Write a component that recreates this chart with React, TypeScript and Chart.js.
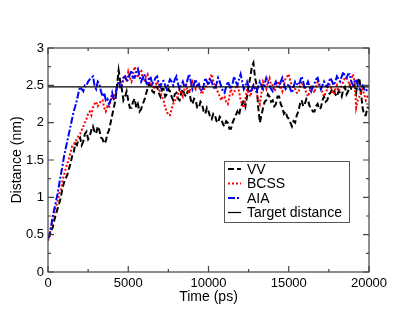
import React, { useEffect, useRef } from "react";
import { Chart, registerables } from "chart.js";

Chart.register(...registerables);

const TIME_STEP = 100; // ps between samples
const TARGET_DISTANCE = 2.48;

const VV = [
  0.45, 0.48, 0.55, 0.6, 0.7, 0.78, 0.85, 0.92, 1.0, 1.12,
  1.2, 1.25, 1.3, 1.38, 1.45, 1.55, 1.6, 1.72, 1.7, 1.78,
  1.8, 1.7, 1.75, 1.85, 1.88, 1.78, 1.82, 1.9, 1.95, 1.88,
  1.85, 1.95, 1.9, 1.8, 1.78, 1.72, 1.75, 1.85, 1.9, 2.0,
  2.1, 2.2, 2.3, 2.5, 2.7, 2.55, 2.45, 2.3, 2.35, 2.42,
  2.3, 2.2, 2.2, 2.28, 2.32, 2.2, 2.25, 2.15, 2.18, 2.25,
  2.3, 2.38, 2.45, 2.52, 2.5, 2.42, 2.4, 2.48, 2.48, 2.4,
  2.35, 2.45, 2.45, 2.35, 2.38, 2.45, 2.42, 2.35, 2.3, 2.38,
  2.4, 2.32, 2.3, 2.4, 2.45, 2.38, 2.35, 2.42, 2.42, 2.3,
  2.25, 2.32, 2.3, 2.2, 2.2, 2.28, 2.25, 2.15, 2.12, 2.2,
  2.15, 2.08, 2.05, 2.12, 2.1, 2.02, 2.0, 2.08, 2.05, 1.98,
  1.95, 2.02, 2.0, 1.92, 1.92, 2.0, 2.05, 2.1, 2.15, 2.1,
  2.2, 2.25, 2.3, 2.22, 2.35, 2.5, 2.6, 2.75, 2.8, 2.6,
  2.5, 2.2, 2.0, 2.1, 2.2, 2.28, 2.3, 2.38, 2.35, 2.28,
  2.3, 2.22, 2.25, 2.35, 2.35, 2.25, 2.2, 2.12, 2.15, 2.08,
  2.05, 2.0, 1.95, 2.02, 2.0, 2.1, 2.15, 2.25, 2.3, 2.22,
  2.25, 2.32, 2.3, 2.22, 2.2, 2.15, 2.15, 2.22, 2.25, 2.18,
  2.2, 2.3, 2.35, 2.28, 2.3, 2.38, 2.4, 2.45, 2.45, 2.38,
  2.35, 2.42, 2.4, 2.35, 2.45, 2.48, 2.38, 2.42, 2.5, 2.45,
  2.45, 2.5, 2.4, 2.55, 2.6, 2.4, 2.2, 2.1, 2.1, 2.2,
  2.2,
];

const BCSS = [
  0.42, 0.5, 0.6, 0.72, 0.8, 0.88, 0.95, 1.05, 1.1, 1.22,
  1.3, 1.38, 1.45, 1.52, 1.6, 1.68, 1.7, 1.75, 1.78, 1.82,
  1.85, 1.9, 1.95, 2.0, 2.05, 2.12, 2.15, 2.1, 2.2, 2.25,
  2.28, 2.22, 2.25, 2.3, 2.3, 2.2, 2.15, 2.22, 2.2, 2.3,
  2.35, 2.3, 2.4, 2.48, 2.55, 2.5, 2.5, 2.6, 2.62, 2.55,
  2.68, 2.6, 2.55, 2.65, 2.75, 2.68, 2.6, 2.7, 2.7, 2.6,
  2.55, 2.62, 2.65, 2.55, 2.5, 2.55, 2.45, 2.5, 2.55, 2.45,
  2.4, 2.35, 2.3, 2.2, 2.15, 2.1, 2.1, 2.18, 2.25, 2.3,
  2.3, 2.38, 2.45, 2.4, 2.35, 2.45, 2.5, 2.42, 2.4, 2.48,
  2.55, 2.5, 2.45, 2.52, 2.5, 2.42, 2.38, 2.45, 2.45, 2.52,
  2.55, 2.6, 2.65, 2.55, 2.5, 2.45, 2.4, 2.35, 2.3, 2.35,
  2.35, 2.28, 2.25, 2.35, 2.45, 2.38, 2.4, 2.48, 2.5, 2.42,
  2.3, 2.25, 2.2, 2.32, 2.45, 2.4, 2.35, 2.42, 2.5, 2.45,
  2.4, 2.3, 2.25, 2.4, 2.55, 2.5, 2.45, 2.55, 2.6, 2.5,
  2.5, 2.42, 2.45, 2.52, 2.55, 2.48, 2.42, 2.5, 2.6, 2.62,
  2.65, 2.55, 2.5, 2.45, 2.45, 2.4, 2.4, 2.48, 2.55, 2.5,
  2.45, 2.4, 2.35, 2.42, 2.5, 2.45, 2.4, 2.48, 2.55, 2.5,
  2.48, 2.4, 2.35, 2.4, 2.45, 2.52, 2.5, 2.42, 2.38, 2.45,
  2.5, 2.42, 2.45, 2.5, 2.55, 2.6, 2.6, 2.55, 2.5, 2.58,
  2.65, 2.55, 2.2, 2.3, 2.35, 2.42, 2.45, 2.38, 2.3, 2.35,
  2.35,
];

const AIA = [
  0.45, 0.52, 0.62, 0.75, 0.85, 0.95, 1.05, 1.18, 1.3, 1.42,
  1.55, 1.65, 1.75, 1.85, 1.95, 2.05, 2.15, 2.22, 2.3, 2.4,
  2.48, 2.45, 2.42, 2.5, 2.5, 2.55, 2.58, 2.6, 2.62, 2.5,
  2.45, 2.55, 2.52, 2.42, 2.35, 2.4, 2.3, 2.32, 2.25, 2.3,
  2.4, 2.32, 2.35, 2.48, 2.55, 2.48, 2.5, 2.6, 2.62, 2.55,
  2.58, 2.65, 2.7, 2.6, 2.6, 2.68, 2.72, 2.62, 2.55, 2.6,
  2.65, 2.55, 2.5, 2.58, 2.6, 2.52, 2.55, 2.6, 2.62, 2.52,
  2.48, 2.55, 2.56, 2.5, 2.45, 2.52, 2.58, 2.55, 2.5, 2.58,
  2.62, 2.52, 2.45, 2.5, 2.55, 2.48, 2.5, 2.58, 2.65, 2.55,
  2.45, 2.52, 2.58, 2.5, 2.52, 2.45, 2.42, 2.5, 2.6, 2.55,
  2.5, 2.58, 2.55, 2.48, 2.45, 2.52, 2.6, 2.55, 2.48, 2.42,
  2.4, 2.48, 2.55, 2.5, 2.45, 2.52, 2.62, 2.55, 2.5, 2.58,
  2.65, 2.55, 2.45, 2.5, 2.55, 2.48, 2.4, 2.45, 2.5, 2.45,
  2.42, 2.48, 2.55, 2.5, 2.45, 2.52, 2.6, 2.55, 2.5, 2.45,
  2.42, 2.5, 2.55, 2.5, 2.48, 2.55, 2.6, 2.52, 2.45, 2.48,
  2.52, 2.45, 2.4, 2.48, 2.55, 2.52, 2.5, 2.55, 2.62, 2.55,
  2.45, 2.5, 2.55, 2.48, 2.42, 2.48, 2.52, 2.58, 2.6, 2.52,
  2.45, 2.5, 2.55, 2.5, 2.48, 2.55, 2.6, 2.55, 2.5, 2.55,
  2.62, 2.58, 2.55, 2.62, 2.68, 2.62, 2.6, 2.65, 2.65, 2.55,
  2.5, 2.55, 2.58, 2.5, 2.45, 2.48, 2.5, 2.45, 2.42, 2.45,
  2.45,
];

const X_MIN = 0;
const X_MAX = 20000;
const Y_MIN = 0;
const Y_MAX = 3;
const X_MAJOR = 5000;
const X_MINOR = 2500;
const Y_MAJOR = 0.5;
const Y_MINOR = 0.25;

const LEGEND_LABELS = ["VV", "BCSS", "AIA", "Target distance"];

const FONT = "'Liberation Sans', Arial, Helvetica, sans-serif";

const toPoints = (arr: number[]) => arr.map((y, i) => ({ x: i * TIME_STEP, y }));

const framePlugin = {
  id: "frameTicks",
  afterDraw(chart: any) {
    const { ctx, chartArea } = chart;
    const xs = chart.scales.x;
    const ys = chart.scales.y;
    ctx.save();
    ctx.strokeStyle = "#444";
    ctx.lineWidth = 1.2;
    ctx.strokeRect(chartArea.left, chartArea.top, chartArea.right - chartArea.left, chartArea.bottom - chartArea.top);
    ctx.beginPath();
    for (let v = X_MIN; v <= X_MAX + 1e-6; v += X_MINOR) {
      const px = xs.getPixelForValue(v);
      const len = Math.abs(v % X_MAJOR) < 1e-6 ? 6 : 3;
      ctx.moveTo(px, chartArea.bottom);
      ctx.lineTo(px, chartArea.bottom - len);
      ctx.moveTo(px, chartArea.top);
      ctx.lineTo(px, chartArea.top + len);
    }
    for (let v = Y_MIN; v <= Y_MAX + 1e-6; v += Y_MINOR) {
      const py = ys.getPixelForValue(v);
      const r = v / Y_MAJOR;
      const len = Math.abs(r - Math.round(r)) < 1e-6 ? 6 : 3;
      ctx.moveTo(chartArea.left, py);
      ctx.lineTo(chartArea.left + len, py);
      ctx.moveTo(chartArea.right, py);
      ctx.lineTo(chartArea.right - len, py);
    }
    ctx.stroke();
    ctx.restore();
  },
};

const legendPlugin = {
  id: "insideLegend",
  afterDraw(chart: any) {
    const { ctx, chartArea } = chart;
    const left = chartArea.left + 176;
    const top = chartArea.top + 113;
    const w = 125;
    const h = 61;
    ctx.save();
    ctx.fillStyle = "#fff";
    ctx.fillRect(left, top, w, h);
    ctx.strokeStyle = "#555";
    ctx.lineWidth = 1;
    ctx.strokeRect(left + 0.5, top + 0.5, w, h);
    ctx.font = `14px ${FONT}`;
    ctx.textBaseline = "middle";
    [0, 1, 2, 3].forEach((di, i) => {
      const ds = chart.data.datasets[di];
      const y = top + 8 + i * 14.5;
      ctx.beginPath();
      ctx.strokeStyle = ds.borderColor;
      ctx.lineWidth = ds.legendWidth;
      ctx.setLineDash(ds.borderDash || []);
      ctx.moveTo(left + 4, y);
      ctx.lineTo(left + 17, y);
      ctx.stroke();
      ctx.setLineDash([]);
      ctx.fillStyle = "#000";
      ctx.fillText(LEGEND_LABELS[i], left + 23, y + 1);
    });
    ctx.restore();
  },
};

export default function App() {
  const ref = useRef<HTMLCanvasElement>(null);
  useEffect(() => {
    if (!ref.current) return;
    const chart = new Chart(ref.current, {
      type: "line",
      data: {
        datasets: [
          {
            label: LEGEND_LABELS[0],
            data: toPoints(VV),
            borderColor: "#000",
            borderWidth: 2,
            borderDash: [6, 3],
            pointRadius: 0,
            order: 3,
            legendWidth: 2,
          } as any,
          {
            label: LEGEND_LABELS[1],
            data: toPoints(BCSS),
            borderColor: "#ff0000",
            borderWidth: 2,
            borderDash: [2, 2],
            pointRadius: 0,
            order: 2,
            legendWidth: 2,
          } as any,
          {
            label: LEGEND_LABELS[2],
            data: toPoints(AIA),
            borderColor: "#0000ff",
            borderWidth: 2,
            borderDash: [7, 2, 2, 2],
            pointRadius: 0,
            order: 1,
            legendWidth: 2,
          } as any,
          {
            label: LEGEND_LABELS[3],
            data: [
              { x: X_MIN, y: TARGET_DISTANCE },
              { x: X_MAX, y: TARGET_DISTANCE },
            ],
            borderColor: "#000",
            borderWidth: 1.2,
            pointRadius: 0,
            order: 0,
            legendWidth: 1.2,
          } as any,
        ],
      },
      options: {
        responsive: false,
        animation: false,
        layout: { padding: { left: 9, top: 48, right: 46, bottom: 15 } },
        plugins: { legend: { display: false }, tooltip: { enabled: false } },
        elements: { line: { tension: 0 } },
        scales: {
          x: {
            type: "linear",
            min: X_MIN,
            max: X_MAX,
            grid: { display: false, drawTicks: false },
            border: { display: false },
            afterFit: (s: any) => {
              s.height = 34;
            },
            ticks: {
              stepSize: X_MAJOR,
              color: "#000",
              padding: 4,
              maxRotation: 0,
              font: { family: FONT, size: 13 },
              callback: (v: any) => String(v),
            },
            title: {
              display: true,
              text: "Time (ps)",
              color: "#000",
              padding: { top: 0, bottom: 0 },
              font: { family: FONT, size: 14 },
            },
          },
          y: {
            min: Y_MIN,
            max: Y_MAX,
            grid: { display: false, drawTicks: false },
            border: { display: false },
            afterFit: (s: any) => {
              s.width = 39;
            },
            ticks: {
              stepSize: Y_MAJOR,
              color: "#000",
              padding: 4,
              font: { family: FONT, size: 13 },
              callback: (v: any) => String(v),
            },
            title: {
              display: true,
              text: "Distance (nm)",
              color: "#000",
              padding: { top: 0, bottom: 0 },
              font: { family: FONT, size: 14 },
            },
          },
        },
      } as any,
      plugins: [framePlugin, legendPlugin],
    });
    return () => chart.destroy();
  }, []);
  return (
    <div style={{ position: "fixed", left: 0, top: 0, width: 415, height: 321, background: "#fff" }}>
      <canvas ref={ref} width={415} height={321} style={{ width: 415, height: 321 }} />
    </div>
  );
}
